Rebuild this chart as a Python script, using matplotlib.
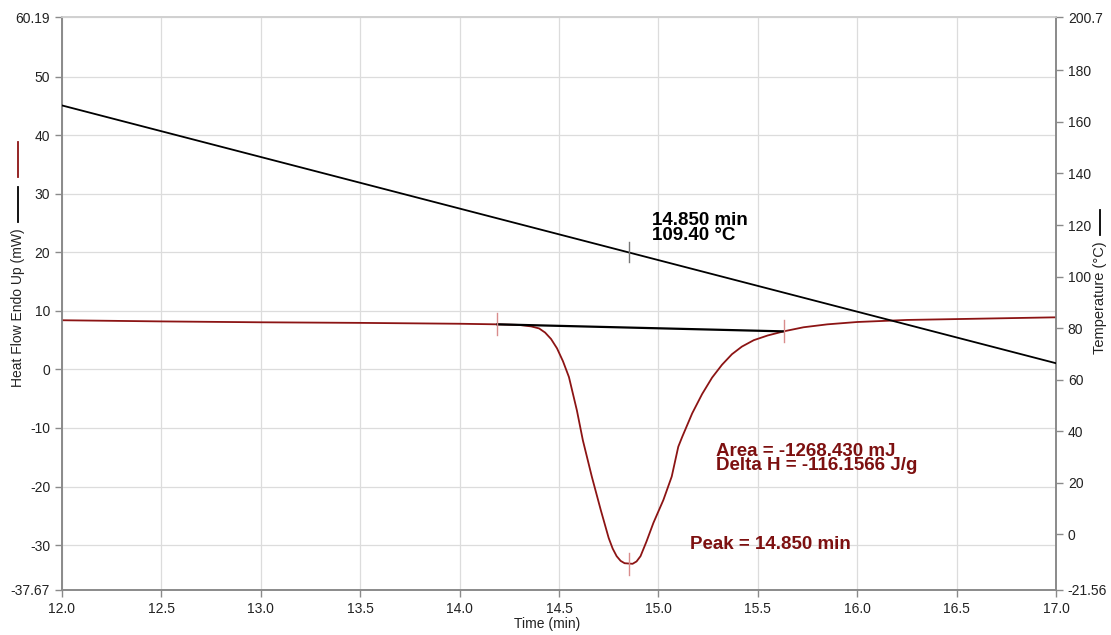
import matplotlib
matplotlib.use("Agg")
import matplotlib.pyplot as plt
from matplotlib.lines import Line2D

plt.rcParams['font.family'] = ['Liberation Sans', 'DejaVu Sans']

# Heat flow trace (mW) against time (min)
time_hf = [12.0, 12.5, 13.0, 13.5, 14.0, 14.19, 14.30, 14.36, 14.40, 14.43, 14.46,
           14.49, 14.52, 14.55, 14.59, 14.62, 14.665, 14.71, 14.75, 14.77, 14.79,
           14.81, 14.83, 14.87, 14.89, 14.91, 14.94, 14.975, 15.025, 15.067, 15.10,
           15.12, 15.17, 15.22, 15.27, 15.32, 15.37, 15.42, 15.48, 15.55, 15.63,
           15.73, 15.85, 16.0, 16.25, 16.5, 16.75, 17.0]
heat_flow = [8.4, 8.2, 8.05, 7.95, 7.8, 7.7, 7.6, 7.35, 7.0, 6.3, 5.2,
             3.6, 1.4, -1.3, -7.0, -12.1, -18.3, -24.0, -28.8, -30.6, -31.9,
             -32.7, -33.1, -33.2, -32.8, -31.9, -29.4, -26.2, -22.3, -18.3, -13.2,
             -11.5, -7.5, -4.2, -1.4, 0.8, 2.6, 3.9, 5.0, 5.8, 6.5,
             7.2, 7.7, 8.1, 8.45, 8.6, 8.75, 8.9]

# Programmed temperature (°C)
time_temp = [12.0, 14.85, 17.0]
temperature = [166.4, 109.40, 66.4]

# Peak integration results
onset_time, onset_hf = 14.19, 7.7
end_time, end_hf = 15.63, 6.5
peak_time, peak_hf = 14.85, -33.2
peak_temp = 109.40
area_mj = -1268.430
delta_h = -116.1566

left_ticks = [-37.67, -30, -20, -10, 0, 10, 20, 30, 40, 50, 60.19]
left_labels = ['-37.67', '-30', '-20', '-10', '0', '10', '20', '30', '40', '50', '60.19']
right_ticks = [-21.56, 0, 20, 40, 60, 80, 100, 120, 140, 160, 180, 200.7]
right_labels = ['-21.56', '0', '20', '40', '60', '80', '100', '120', '140', '160', '180', '200.7']
time_ticks = [12.0, 12.5, 13.0, 13.5, 14.0, 14.5, 15.0, 15.5, 16.0, 16.5, 17.0]

RED = '#8c1414'
TEXT_RED = '#7d1010'
MARK_RED = '#d98c8c'
AXIS = '#8a8a8a'

fig = plt.figure(figsize=(11.11, 6.35), dpi=100)
ax = fig.add_axes([0.0558, 0.0709, 0.8947, 0.9023])
ax2 = ax.twinx()

ax.set_xlim(12.0, 17.0)
ax.set_ylim(-37.67, 60.19)
ax2.set_ylim(-21.56, 200.7)

ax.set_xticks(time_ticks)
ax.set_xticklabels(['%.1f' % t for t in time_ticks])
ax.set_yticks(left_ticks)
ax.set_yticklabels(left_labels)
ax2.set_yticks(right_ticks)
ax2.set_yticklabels(right_labels)

ax.grid(True, color='#dcdcdc', linewidth=0.9)
ax.set_axisbelow(True)

for a in (ax, ax2):
    for side in ('left', 'right', 'bottom', 'top'):
        a.spines[side].set_color(AXIS)
        a.spines[side].set_linewidth(1.2)
    a.spines['top'].set_color('#d0d0d0')
    a.tick_params(colors=AXIS, labelcolor='#222222', labelsize=10, length=5, width=1)

# heat flow and temperature traces
ax.plot(time_hf, heat_flow, color=RED, linewidth=1.3, zorder=3)
ax2.plot(time_temp, temperature, color='black', linewidth=1.3, zorder=3)

# integration baseline
ax.plot([onset_time, end_time], [onset_hf, end_hf], color='black', linewidth=1.6, zorder=4)

# small cursor marks
for t, v in [(onset_time, onset_hf), (end_time, end_hf), (peak_time, peak_hf)]:
    ax.plot([t, t], [v - 1.9, v + 1.9], color=MARK_RED, linewidth=1.0, zorder=5)
ax2.plot([peak_time, peak_time], [peak_temp - 3.9, peak_temp + 3.9], color='#777777',
         linewidth=1.0, zorder=5)

ax.text(14.97, 21.5, '%.3f min\n%.2f °C' % (peak_time, peak_temp), fontsize=13.5,
        fontweight='bold', color='black', linespacing=0.8, va='bottom', ha='left')
ax.text(15.29, -17.9, 'Area = %.3f mJ\nDelta H = %.4f J/g' % (area_mj, delta_h),
        fontsize=13.5, fontweight='bold', color=TEXT_RED, linespacing=0.8,
        va='bottom', ha='left')
ax.text(15.16, -29.9, 'Peak = %.3f min' % peak_time, fontsize=13.5,
        fontweight='bold', color=TEXT_RED, va='center', ha='left')

ax.set_xlabel('Time (min)', fontsize=10, color='#222222', labelpad=0)
ax.xaxis.set_label_coords(0.488, -0.047)

# axis titles with line keys
fig.text(18 / 1111, 1 - 308 / 635, 'Heat Flow Endo Up (mW)', rotation=90,
         fontsize=10, color='#222222', ha='center', va='center')
fig.add_artist(Line2D([18 / 1111] * 2, [1 - 142 / 635, 1 - 177 / 635], color=RED, linewidth=1.3))
fig.add_artist(Line2D([18 / 1111] * 2, [1 - 187 / 635, 1 - 222 / 635], color='black', linewidth=1.3))

fig.text(1100 / 1111, 1 - 298 / 635, 'Temperature (°C)', rotation=90,
         fontsize=10.5, color='#222222', ha='center', va='center')
fig.add_artist(Line2D([1100 / 1111] * 2, [1 - 210 / 635, 1 - 235 / 635], color='black', linewidth=1.3))

fig.savefig('out.png', dpi=100)
